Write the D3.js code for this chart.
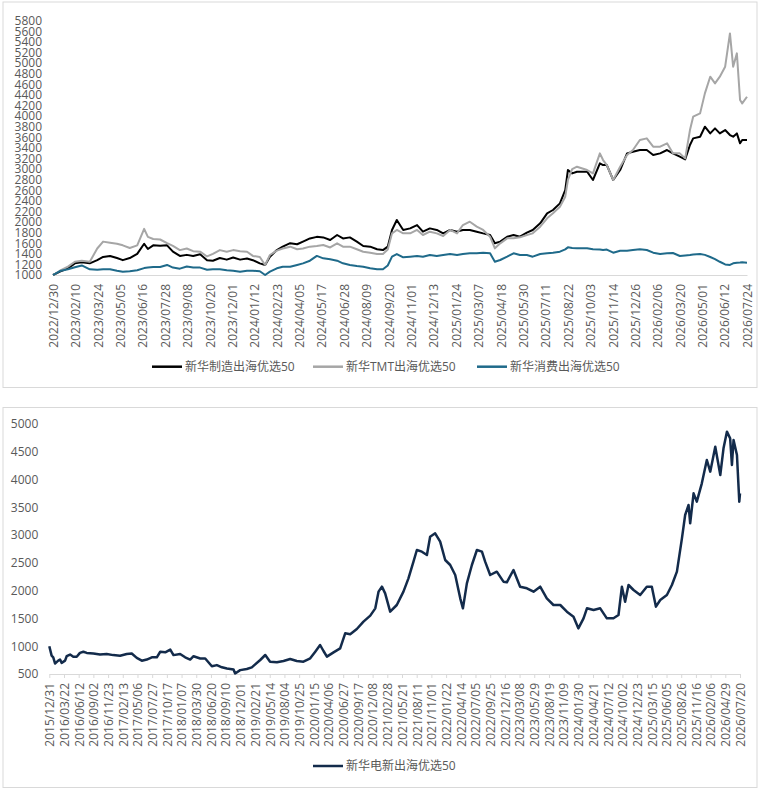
<!DOCTYPE html>
<html><head><meta charset="utf-8">
<script src="https://cdn.jsdelivr.net/npm/d3@7"></script>
<style>
body{margin:0;background:#fff}
svg{display:block}
text{font-family:"Open Sans","Noto Sans CJK SC",sans-serif;fill:#595959}
</style>
</head><body>
<svg id="c" width="760" height="791"></svg>
<script>
// ---------- TOP CHART DATA ----------
const topDates = ["2022-12-30","2023-01-12","2023-01-27","2023-02-09","2023-02-22","2023-03-09","2023-03-23","2023-04-03","2023-04-16","2023-04-29","2023-05-10","2023-05-23","2023-06-06","2023-06-19","2023-06-26","2023-07-06","2023-07-19","2023-08-01","2023-08-12","2023-08-25","2023-09-07","2023-09-19","2023-10-02","2023-10-15","2023-10-26","2023-11-08","2023-11-21","2023-12-03","2023-12-16","2023-12-29","2024-01-09","2024-01-22","2024-02-01","2024-02-10","2024-02-23","2024-03-05","2024-03-19","2024-04-01","2024-04-12","2024-04-25","2024-05-08","2024-05-20","2024-06-02","2024-06-15","2024-06-26","2024-07-09","2024-07-22","2024-08-03","2024-08-16","2024-08-29","2024-09-09","2024-09-18","2024-09-26","2024-10-05","2024-10-17","2024-10-30","2024-11-12","2024-11-23","2024-12-06","2024-12-19","2024-12-31","2025-01-13","2025-01-26","2025-02-06","2025-02-19","2025-03-04","2025-03-16","2025-03-29","2025-04-07","2025-04-17","2025-04-30","2025-05-12","2025-05-24","2025-06-06","2025-06-17","2025-07-01","2025-07-14","2025-07-25","2025-08-07","2025-08-17","2025-08-22","2025-08-30","2025-09-08","2025-09-27","2025-10-08","2025-10-21","2025-10-27","2025-11-03","2025-11-15","2025-11-28","2025-12-11","2025-12-22","2026-01-04","2026-01-17","2026-01-29","2026-02-11","2026-02-24","2026-03-07","2026-03-20","2026-03-30","2026-04-08","2026-04-14","2026-04-27","2026-05-06","2026-05-16","2026-05-25","2026-06-03","2026-06-13","2026-06-22","2026-06-28","2026-07-05","2026-07-11","2026-07-15","2026-07-24"];
const mfgValues = [1000,1063,1126,1220,1240,1220,1280,1340,1360,1320,1280,1320,1400,1590,1490,1560,1550,1560,1440,1360,1380,1360,1390,1280,1270,1320,1290,1330,1290,1310,1280,1220,1190,1346,1470,1535,1600,1580,1630,1690,1720,1710,1660,1755,1690,1710,1630,1547,1535,1485,1470,1535,1850,2038,1850,1880,1943,1818,1880,1850,1786,1850,1818,1850,1850,1818,1786,1755,1598,1630,1723,1755,1723,1800,1850,1975,2164,2227,2352,2604,2981,2918,2950,2950,2793,3107,3075,3075,2793,2981,3296,3327,3359,3359,3264,3296,3359,3296,3233,3183,3453,3579,3610,3799,3673,3768,3673,3736,3642,3610,3673,3485,3550,3547];
const tmtValues = [1000,1080,1157,1250,1270,1250,1500,1630,1610,1590,1560,1510,1560,1870,1720,1680,1670,1600,1550,1470,1500,1450,1440,1350,1400,1470,1440,1470,1450,1440,1360,1340,1190,1377,1460,1500,1535,1485,1500,1535,1547,1566,1520,1598,1535,1535,1485,1440,1420,1396,1396,1480,1786,1850,1786,1786,1850,1755,1818,1786,1736,1850,1786,1943,2006,1912,1850,1723,1503,1598,1692,1692,1711,1755,1786,1912,2070,2164,2290,2478,2793,3000,3044,2981,2918,3296,3170,3075,2793,3044,3264,3359,3548,3579,3422,3422,3485,3296,3296,3201,3736,3988,4051,4428,4743,4617,4743,4932,5560,4932,5183,4302,4239,4365];
const consValues = [1000,1075,1107,1145,1180,1107,1100,1110,1110,1080,1060,1070,1090,1130,1140,1150,1150,1190,1140,1120,1160,1140,1140,1100,1110,1110,1090,1080,1060,1080,1080,1070,1000,1063,1126,1157,1157,1190,1220,1270,1360,1315,1296,1270,1220,1190,1170,1157,1126,1107,1107,1180,1346,1396,1333,1346,1358,1346,1377,1358,1377,1396,1377,1396,1409,1409,1421,1409,1250,1283,1346,1409,1377,1377,1346,1396,1409,1421,1440,1484,1522,1510,1503,1503,1484,1480,1470,1480,1421,1459,1459,1472,1484,1472,1421,1396,1409,1415,1358,1370,1377,1385,1396,1380,1340,1300,1250,1200,1190,1220,1230,1235,1240,1233];
const topSeriesNames = ["新华制造出海优选50","新华TMT出海优选50","新华消费出海优选50"];
const topColors = ["#000000","#a6a6a6","#1f6a8a"];
const topTickLabels = ["2022/12/30","2023/02/10","2023/03/24","2023/05/05","2023/06/16","2023/07/28","2023/09/08","2023/10/20","2023/12/01","2024/01/12","2024/02/23","2024/04/05","2024/05/17","2024/06/28","2024/08/09","2024/09/20","2024/11/01","2024/12/13","2025/01/24","2025/03/07","2025/04/18","2025/05/30","2025/07/11","2025/08/22","2025/10/03","2025/11/14","2025/12/26","2026/02/06","2026/03/20","2026/05/01","2026/06/12","2026/07/24"];
const topYTicks = [1000,1200,1400,1600,1800,2000,2200,2400,2600,2800,3000,3200,3400,3600,3800,4000,4200,4400,4600,4800,5000,5200,5400,5600,5800];

// ---------- BOTTOM CHART DATA ----------
const bottomDates = ["2015-12-31","2016-01-13","2016-01-22","2016-02-01","2016-02-19","2016-02-29","2016-03-09","2016-03-28","2016-04-06","2016-04-25","2016-05-13","2016-06-01","2016-06-19","2016-07-08","2016-07-27","2016-09-02","2016-10-09","2016-11-15","2016-12-22","2017-01-29","2017-03-07","2017-04-04","2017-05-02","2017-05-30","2017-06-27","2017-07-25","2017-08-22","2017-09-10","2017-10-08","2017-11-05","2017-11-23","2017-12-30","2018-01-27","2018-02-24","2018-03-15","2018-04-21","2018-05-19","2018-06-25","2018-07-23","2018-08-20","2018-09-17","2018-10-24","2018-11-02","2018-11-30","2019-01-06","2019-02-03","2019-03-22","2019-04-19","2019-05-16","2019-06-23","2019-07-30","2019-09-05","2019-10-12","2019-11-18","2019-12-26","2020-01-23","2020-02-19","2020-03-09","2020-03-28","2020-05-04","2020-06-10","2020-07-08","2020-08-05","2020-09-11","2020-10-18","2020-11-25","2020-12-23","2021-01-10","2021-01-29","2021-02-16","2021-03-16","2021-04-22","2021-05-29","2021-06-26","2021-07-24","2021-08-12","2021-09-09","2021-10-07","2021-10-25","2021-11-22","2021-12-20","2022-01-17","2022-02-14","2022-03-14","2022-04-11","2022-04-26","2022-05-18","2022-06-15","2022-07-13","2022-08-10","2022-08-28","2022-09-25","2022-11-01","2022-12-08","2022-12-27","2023-02-02","2023-03-11","2023-04-18","2023-05-25","2023-07-01","2023-08-07","2023-09-13","2023-10-21","2023-11-27","2024-01-03","2024-01-30","2024-02-28","2024-03-18","2024-04-24","2024-05-31","2024-07-07","2024-08-13","2024-09-10","2024-09-29","2024-10-17","2024-11-05","2024-12-03","2025-01-09","2025-02-15","2025-03-15","2025-04-07","2025-05-01","2025-06-07","2025-07-05","2025-08-02","2025-08-30","2025-09-17","2025-10-06","2025-10-15","2025-11-03","2025-11-21","2025-12-19","2026-01-16","2026-02-04","2026-03-04","2026-04-01","2026-04-19","2026-05-08","2026-05-26","2026-06-05","2026-06-14","2026-07-03","2026-07-16","2026-07-20"];
const evValues = [1000,830,800,690,740,760,700,740,820,850,810,810,880,900,880,870,850,860,840,830,860,870,790,740,760,800,800,900,890,940,840,860,800,760,820,780,780,640,660,620,600,580,510,570,590,620,752,842,722,710,734,770,734,722,782,902,1022,914,812,890,962,1232,1214,1310,1442,1550,1682,1982,2072,1952,1622,1742,1982,2222,2522,2732,2702,2642,2972,3032,2882,2552,2462,2282,1862,1682,2132,2462,2732,2702,2522,2282,2342,2162,2150,2372,2072,2042,1982,2072,1862,1742,1742,1622,1532,1322,1502,1682,1652,1682,1502,1502,1562,2072,1802,2102,2012,1922,2072,2072,1712,1832,1922,2102,2342,2942,3362,3542,3212,3752,3602,3932,4352,4142,4592,4082,4562,4862,4742,4262,4712,4442,3602,3752];
const bottomSeriesName = "新华电新出海优选50";
const bottomColor = "#132b4b";
const bottomTickLabels = ["2015/12/31","2016/03/22","2016/06/12","2016/09/02","2016/11/23","2017/02/13","2017/05/06","2017/07/27","2017/10/17","2018/01/07","2018/03/30","2018/06/20","2018/09/10","2018/12/01","2019/02/21","2019/05/14","2019/08/04","2019/10/25","2020/01/15","2020/04/06","2020/06/27","2020/09/17","2020/12/08","2021/02/28","2021/05/21","2021/08/11","2021/11/01","2022/01/22","2022/04/14","2022/07/05","2022/09/25","2022/12/16","2023/03/08","2023/05/29","2023/08/19","2023/11/09","2024/01/30","2024/04/21","2024/07/12","2024/10/02","2024/12/23","2025/03/15","2025/06/05","2025/08/26","2025/11/16","2026/02/06","2026/04/29","2026/07/20"];
const bottomYTicks = [500,1000,1500,2000,2500,3000,3500,4000,4500,5000];

// ---------- DRAW ----------
const pD = d3.timeParse("%Y-%m-%d");
const pT = d3.timeParse("%Y/%m/%d");
const fT = d3.timeFormat("%Y/%m/%d");
const svg = d3.select("#c");
const AX = "#d9d9d9";

function frame(x0,y0,x1,y1){
  svg.append("rect").attr("x",x0).attr("y",y0).attr("width",x1-x0).attr("height",y1-y0)
    .attr("fill","#fff").attr("stroke",AX).attr("stroke-width",1);
}

// legend: items placed at given left x positions
function legend(items, starts, cy){
  const g = svg.append("g");
  const lineL = 30, gapT = 3;
  items.forEach((it,i)=>{
    const x = starts[i];
    g.append("line").attr("x1",x).attr("x2",x+lineL).attr("y1",cy).attr("y2",cy)
      .attr("stroke",it.color).attr("stroke-width",2.5);
    g.append("text").attr("x",x+lineL+gapT).attr("y",cy).attr("dy","0.35em")
      .attr("font-size",12).text(it.name);
  });
}

// top chart
frame(3,2,757,387.5);
const xTop = d3.scaleTime().domain([pT(topTickLabels[0]), pT(topTickLabels[topTickLabels.length-1])]).range([53,747]);
const yTop = d3.scaleLinear().domain([1000,5800]).range([275,20.7]);

const yAxT = svg.append("g").attr("transform","translate(53,0)")
  .call(d3.axisLeft(yTop).tickValues(topYTicks).tickSize(0).tickPadding(11).tickFormat(d3.format("d")));
yAxT.select(".domain").remove();
yAxT.selectAll("text").attr("font-size",12);

const xAxT = svg.append("g").attr("transform","translate(0,275)")
  .call(d3.axisBottom(xTop).tickValues(topTickLabels.map(pT)).tickFormat(fT).tickSize(0));
xAxT.select(".domain").attr("stroke",AX).attr("stroke-width",1.2);
xAxT.selectAll("text").attr("transform","rotate(-90)").attr("text-anchor","end")
  .attr("x",-9).attr("y",0).attr("dy","0.36em").attr("font-size",12);

const topVals = [mfgValues, tmtValues, consValues];
const tDates = topDates.map(pD);
const lineTop = d3.line().x(d=>xTop(d[0])).y(d=>yTop(d[1]));
topVals.forEach((vals,i)=>{
  svg.append("path").datum(tDates.map((d,j)=>[d,vals[j]]))
    .attr("fill","none").attr("stroke",topColors[i]).attr("stroke-width",2)
    .attr("stroke-linejoin","round").attr("d",lineTop);
});
legend(topSeriesNames.map((n,i)=>({name:n,color:topColors[i]})), [152,313,477], 366.7);

// bottom chart
frame(3,407.5,757,787.5);
const xBot = d3.scaleTime().domain([pT(bottomTickLabels[0]), pT(bottomTickLabels[bottomTickLabels.length-1])]).range([49.3,740]);
const yBot = d3.scaleLinear().domain([500,5000]).range([674,424]);

const yAxB = svg.append("g").attr("transform","translate(49.3,0)")
  .call(d3.axisLeft(yBot).tickValues(bottomYTicks).tickSize(0).tickPadding(11).tickFormat(d3.format("d")));
yAxB.select(".domain").remove();
yAxB.selectAll("text").attr("font-size",12);

const xAxB = svg.append("g").attr("transform","translate(0,674)")
  .call(d3.axisBottom(xBot).tickValues(bottomTickLabels.map(pT)).tickFormat(fT).tickSizeInner(4).tickSizeOuter(0));
xAxB.select(".domain").attr("stroke",AX).attr("stroke-width",1.2);
xAxB.selectAll(".tick line").attr("stroke",AX);
xAxB.selectAll("text").attr("transform","rotate(-90)").attr("text-anchor","end")
  .attr("x",-9).attr("y",0).attr("dy","0.36em").attr("font-size",12);

const bDates = bottomDates.map(pD);
const lineBot = d3.line().x(d=>xBot(d[0])).y(d=>yBot(d[1]));
svg.append("path").datum(bDates.map((d,j)=>[d,evValues[j]]))
  .attr("fill","none").attr("stroke",bottomColor).attr("stroke-width",2.5)
  .attr("stroke-linejoin","round").attr("d",lineBot);
legend([{name:bottomSeriesName,color:bottomColor}], [313], 766);
</script>
</body></html>
